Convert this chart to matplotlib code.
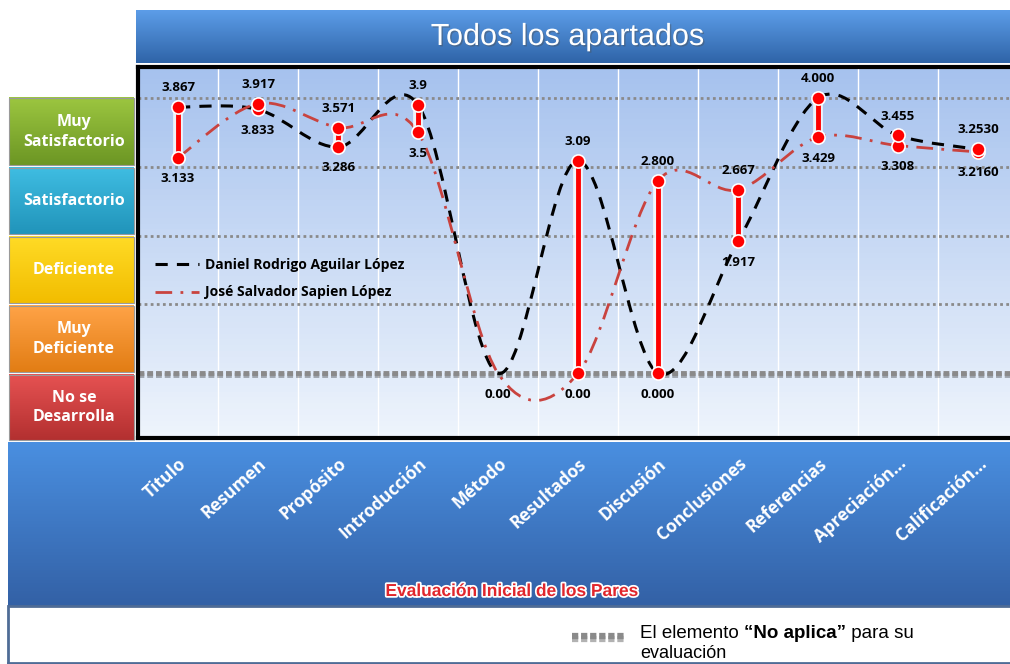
import numpy as np
import matplotlib
matplotlib.use('Agg')
import matplotlib.pyplot as plt
import matplotlib.patheffects as pe
from matplotlib.path import Path
from matplotlib.patches import PathPatch, Rectangle

# data
apartados = ['Titulo', 'Resumen', 'Propósito', 'Introducción', 'Método', 'Resultados',
             'Discusión', 'Conclusiones', 'Referencias', 'Apreciación...', 'Calificación...']
daniel = [3.867, 3.833, 3.286, 3.9, 0.0, 3.09, 0.0, 1.917, 4.0, 3.455, 3.253]
jose = [3.133, 3.917, 3.571, 3.5, 0.0, 0.0, 2.8, 2.667, 3.429, 3.308, 3.216]
etiq_daniel = ['3.867', '3.833', '3.286', '3.9', '0.00', '3.09', '0.000', '1.917', '4.000', '3.455', '3.2530']
etiq_jose = ['3.133', '3.917', '3.571', '3.5', '', '0.00', '2.800', '2.667', '3.429', '3.308', '3.2160']
niveles = ['No se\nDesarrolla', 'Muy\nDeficiente', 'Deficiente', 'Satisfactorio', 'Muy\nSatisfactorio']
nivel_lim = [(-0.97, -0.02), (0.02, 0.98), (1.02, 1.98), (2.02, 2.98), (3.02, 4.0)]
nivel_col = [('#e65252', '#b33030'), ('#ffa347', '#e27d14'), ('#ffdb26', '#f2bd00'),
             ('#3fbde2', '#2194ba'), ('#9cc640', '#6c9624')]

W, H = 1010, 664
fig = plt.figure(figsize=(W / 100, H / 100), dpi=100)
plt.rcParams['font.family'] = ['Open Sans', 'DejaVu Sans']

bg = fig.add_axes([0, 0, 1, 1])
bg.axis('off')


def grad(a, x0, x1, y0, y1, ctop, cbot, **kw):
    c0 = np.array(matplotlib.colors.to_rgb(ctop))
    c1 = np.array(matplotlib.colors.to_rgb(cbot))
    t = np.linspace(0, 1, 64)[:, None, None]
    img = c0 * (1 - t) + c1 * t
    a.imshow(img, extent=(x0, x1, y1, y0), aspect='auto', origin='upper', **kw)


# title bar, bottom band, white note box
grad(bg, 136, W, 10, 63, '#5c9de8', '#2f64a8')
bg.text(567, 37, 'Todos los apartados', color='white', fontsize=22, ha='center', va='center',
        family=['Liberation Sans', 'DejaVu Sans'],
        path_effects=[pe.withSimplePatchShadow(offset=(1, -1), alpha=0.4)])
grad(bg, 8, W, 442, 606, '#4a8fe0', '#3361a6')
bg.add_patch(Rectangle((8, 606), W, 60, facecolor='white', edgecolor='#4f6c96', lw=2))
bg.set_xlim(0, W)
bg.set_ylim(H, 0)

ax = fig.add_axes([138 / W, 1 - 438 / H, (W - 138) / W, (438 - 67) / H])
ax.set_zorder(2)
grad(ax, 0, 1, 0, 1, '#eef4fc', '#a6c2ee', transform=ax.transAxes, zorder=0)
ax.set_xlim(-0.5, 10.4)
ax.set_ylim(-0.94, 4.45)

x = np.arange(len(apartados))
for b in np.arange(0.5, len(apartados) - 1, 1):
    ax.axvline(b, color='white', lw=1, zorder=1)
for v in [1, 2, 3, 4]:
    ax.axhline(v, color='#8a8a8a', lw=2, ls=(0, (1, 1.2)), zorder=1)
ax.axhline(0, color='#8a8a8a', lw=3.5, ls=(0, (1.2, 0.6)), zorder=1,
           path_effects=[pe.SimpleLineShadow(offset=(0, -1.5), alpha=0.3), pe.Normal()])


def smooth(xs, ys):
    p = np.column_stack([xs, ys]).astype(float)
    verts = [p[0]]
    codes = [Path.MOVETO]
    n = len(p)
    for i in range(n - 1):
        pm = p[max(i - 1, 0)]
        pn = p[min(i + 2, n - 1)]
        verts += [p[i] + (p[i + 1] - pm) / 6, p[i + 1] - (pn - p[i]) / 6, p[i + 1]]
        codes += [Path.CURVE4] * 3
    return Path(verts, codes)


ax.add_patch(PathPatch(smooth(x, daniel), fill=False, ec='black', lw=2.2,
                       ls=(0, (4, 3)), zorder=3))
ax.add_patch(PathPatch(smooth(x, jose), fill=False, ec='#c9433f', lw=2,
                       ls=(0, (6, 3, 1, 3)), zorder=3))
ax.plot([], [], color='black', lw=2.2, ls=(0, (4, 3)), label='Daniel Rodrigo Aguilar López')
ax.plot([], [], color='#c9433f', lw=2, ls=(0, (6, 3, 1, 3)), label='José Salvador Sapien López')

# high-low lines
glow = [pe.Stroke(linewidth=7, foreground='white', alpha=0.8), pe.Normal()]
for i in x:
    lo, hi = min(daniel[i], jose[i]), max(daniel[i], jose[i])
    if hi == 0:
        continue
    ax.plot([i, i], [lo, hi], color='#ff0000', lw=3.5, zorder=4, path_effects=glow,
            solid_capstyle='butt')
    ax.plot([i, i], [lo, hi], 'o', color='#ff0000', ms=9.5, mec='white', mew=1.2, zorder=5)

for i in x:
    pares = [(daniel[i], etiq_daniel[i]), (jose[i], etiq_jose[i])]
    if daniel[i] >= jose[i]:
        arriba, abajo = pares[0], pares[1]
    else:
        arriba, abajo = pares[1], pares[0]
    if daniel[i] == jose[i] == 0:
        arriba, abajo = ('', 0), (0, etiq_daniel[i])
    if arriba[1]:
        ax.annotate(arriba[1], (i, arriba[0]), xytext=(0, 14), textcoords='offset points',
                    ha='center', va='center', fontsize=9.5, fontweight='bold', zorder=6)
    if abajo[1]:
        ax.annotate(abajo[1], (i, abajo[0]), xytext=(0, -15), textcoords='offset points',
                    ha='center', va='center', fontsize=9.5, fontweight='bold', zorder=6)

ax.set_xticks(x)
ax.set_xticklabels(apartados, rotation=42, ha='right', va='top', rotation_mode='anchor',
                   color='white', fontsize=12.5, fontweight='bold')
ax.tick_params(axis='x', length=0, pad=12)
ax.set_yticks([])
for s in ['left', 'top', 'bottom']:
    ax.spines[s].set_linewidth(3)
    ax.spines[s].set_color('black')
ax.spines['right'].set_visible(False)
ax.set_xlabel('Evaluación Inicial de los Pares', color='#e0262c', fontsize=12.5,
              fontweight='bold', family=['Liberation Sans Narrow', 'Liberation Sans', 'DejaVu Sans'],
              path_effects=[pe.withStroke(linewidth=2.5, foreground='white')])
ax.xaxis.set_label_coords((512 - 138) / (W - 138), -(584 - 438) / (438 - 67))

leg = ax.legend(loc='upper left', bbox_to_anchor=(0.005, 0.52), frameon=False,
                handlelength=3.2, handletextpad=0.4, labelspacing=1.0,
                prop={'weight': 'bold', 'size': 10})

# rating bands on the left
for (lo, hi), (ct, cb), txt in zip(nivel_lim, nivel_col, niveles):
    y_hi = H - ax.transData.transform((0, hi))[1]
    y_lo = H - ax.transData.transform((0, lo))[1]
    grad(bg, 9, 134, y_hi, y_lo, ct, cb)
    bg.add_patch(Rectangle((9, y_hi), 125, y_lo - y_hi, fill=False, ec='#9a9a9a', lw=0.8))
    bg.text(74, (y_hi + y_lo) / 2, txt, color='white', fontsize=11.5, fontweight='bold',
            ha='center', va='center', linespacing=1.3)
bg.set_xlim(0, W)
bg.set_ylim(H, 0)

# note about "No aplica"
bg.plot([572, 625], [636, 636], color='#8a8a8a', lw=4.5, ls=(0, (1, 0.45)),
        path_effects=[pe.SimpleLineShadow(offset=(0, -2), alpha=0.3), pe.Normal()])
nf = ['Liberation Sans', 'DejaVu Sans']
t1 = bg.text(640, 634, 'El elemento ', fontsize=13.5, va='center', family=nf)
t2 = bg.annotate('“No aplica”', xy=(1, 0), xycoords=t1, va='bottom', fontsize=13.5,
                 fontweight='bold', family=nf)
bg.annotate(' para su', xy=(1, 0), xycoords=t2, va='bottom', fontsize=13.5, family=nf)
bg.text(640, 662, 'evaluación', fontsize=13, va='bottom', family=nf)
bg.plot([8, W], [663, 663], color='#4f6c96', lw=2)

fig.savefig('out.png', dpi=100)
